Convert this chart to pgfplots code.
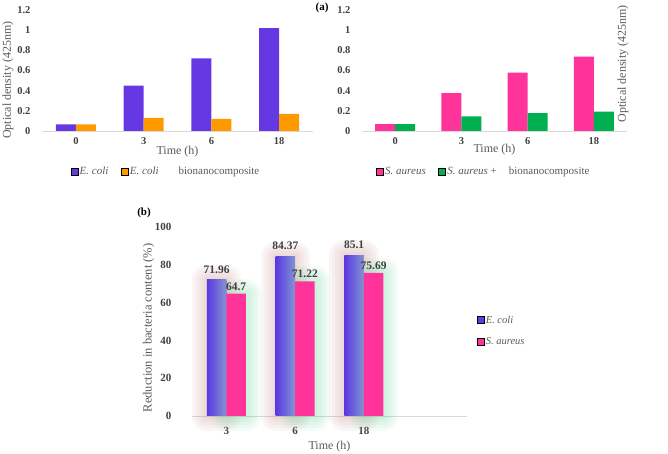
\documentclass[border=0pt]{standalone}
\usepackage{fontspec}
\setmainfont{Liberation Serif}
\usepackage{pgfplots}
\pgfplotsset{compat=1.18}
\definecolor{ecoli}{HTML}{6638E3}
\definecolor{orangeC}{HTML}{FF9900}
\definecolor{pinkC}{HTML}{FF3399}
\definecolor{greenC}{HTML}{00B050}
\definecolor{txt}{HTML}{595959}
\definecolor{tickc}{HTML}{404040}
\definecolor{axisgray}{HTML}{D9D9D9}
\definecolor{purpL}{HTML}{5A38E2}
\definecolor{purpR}{HTML}{8494D2}
\definecolor{glowR}{HTML}{C98E8E}
\definecolor{glowG}{HTML}{6FD49C}
\pgfplotsset{
  common/.style={
    scale only axis, anchor=south west,
    axis x line*=bottom, axis y line*=left,
    y axis line style={draw=none},
    x axis line style={draw=axisgray, line width=0.8pt, -},
    major tick length=0pt,
    enlargelimits=false, clip=false,
    /pgf/number format/assume math mode=true,
    tick label style={font=\bfseries\fontsize{10.5}{12}\selectfont, text=tickc},
    xticklabel style={yshift=-3pt},
    yticklabel style={xshift=-8pt},
    label style={font=\fontsize{12}{14}\selectfont, text=txt},
    legend image code/.code={\fill[##1] (0pt,-3.5pt) rectangle (7pt,3.5pt);},
    legend cell align=left,
    legend style={draw=none, fill=none, anchor=west, inner sep=0pt,
      font=\fontsize{11}{13}\selectfont, text=txt,
      nodes={inner sep=0.6pt},
      /tikz/every odd column/.append style={column sep=1pt},
      /tikz/every even column/.append style={column sep=12pt}},
  },
  glowA/.style={forget plot, ybar, bar width=19.5pt, bar shift=-9.75pt, fill=none, draw=glowR, draw opacity=0.08, line join=round},
  glowB/.style={forget plot, ybar, bar width=19.5pt, bar shift=9.75pt, fill=none, draw=glowG, draw opacity=0.08, line join=round},
  purpbar/.style={forget plot, ybar, bar width=19.5pt, bar shift=-9.75pt, left color=purpL, right color=purpR, draw=none,
    nodes near coords, nodes near coords style={font=\bfseries\fontsize{11.5}{13}\selectfont, text=tickc, anchor=south, xshift=-9.75pt, yshift=3pt}},
}
\begin{document}
\begin{tikzpicture}
\path[use as bounding box] (0pt,0pt) rectangle (668pt,454pt);
% ---------- top left ----------
\begin{axis}[common, at={(42pt,323pt)}, width=271pt, height=121pt,
  xmin=-0.5, xmax=3.5, ymin=0, ymax=1.2,
  xtick={0,1,2,3}, xticklabels={0,3,6,18},
  ytick={0,0.2,0.4,0.6,0.8,1,1.2}, yticklabels={0,0.2,0.4,0.6,0.8,1,1.2},
  xlabel={Time (h)}, ylabel={Optical density (425nm)},
  xlabel style={at={(axis description cs:0.5,-0.174)}, anchor=center},
  ylabel style={at={(axis description cs:-0.125,0.42)}, anchor=center},
  legend style={at={(axis description cs:0.105,-0.335)}},
  legend columns=-1]
\addplot[forget plot, ybar, bar width=20pt, bar shift=-10pt, fill=ecoli, draw=none]
  coordinates {(0,0.065) (1,0.45) (2,0.72) (3,1.02)};
\addplot[forget plot, ybar, bar width=20pt, bar shift=10pt, fill=orangeC, draw=none]
  coordinates {(0,0.065) (1,0.13) (2,0.12) (3,0.17)};
\addlegendimage{fill=ecoli}
\addlegendimage{fill=orangeC}
\legend{\textit{E. coli}, \textit{E. coli}\hspace{20pt}bionanocomposite}
\end{axis}
% ---------- top right ----------
\begin{axis}[common, at={(362pt,323pt)}, width=265pt, height=121pt,
  xmin=-0.5, xmax=3.5, ymin=0, ymax=1.2,
  xtick={0,1,2,3}, xticklabels={0,3,6,18},
  ytick={0,0.2,0.4,0.6,0.8,1,1.2}, yticklabels={0,0.2,0.4,0.6,0.8,1,1.2},
  xlabel={Time (h)}, ylabel={Optical density (425nm)},
  xlabel style={at={(axis description cs:0.5,-0.15)}, anchor=center},
  ylabel style={at={(axis description cs:0.985,0.554)}, anchor=center},
  legend style={at={(axis description cs:0.053,-0.335)}},
  legend columns=-1]
\addplot[forget plot, ybar, bar width=20pt, bar shift=-10pt, fill=pinkC, draw=none]
  coordinates {(0,0.068) (1,0.375) (2,0.578) (3,0.737)};
\addplot[forget plot, ybar, bar width=20pt, bar shift=10pt, fill=greenC, draw=none]
  coordinates {(0,0.068) (1,0.145) (2,0.178) (3,0.192)};
\addlegendimage{fill=pinkC}
\addlegendimage{fill=greenC}
\legend{\textit{S. aureus}, \textit{S. aureus} +\hspace{12pt}bionanocomposite}
\end{axis}
\node[font=\bfseries\fontsize{11}{13}\selectfont, text=black] at (322pt,446pt) {(a)};
% ---------- bottom ----------
\begin{axis}[common, at={(192pt,38pt)}, width=275pt, height=189pt,
  xmin=-0.5, xmax=3.5, ymin=0, ymax=100,
  xtick={0,1,2}, xticklabels={3,6,18},
  ytick={0,20,40,60,80,100},
  tick label style={font=\bfseries\fontsize{11}{13}\selectfont, text=tickc},
  xticklabel style={yshift=-5pt},
  yticklabel style={xshift=-9pt},
  xlabel={Time (h)}, ylabel={Reduction in bacteria content (\%)},
  ylabel style={at={(axis description cs:-0.158,0.466)}, anchor=center, font=\fontsize{12.5}{15}\selectfont},
  xlabel style={at={(axis description cs:0.5,-0.164)}, anchor=center},
  legend style={at={(axis description cs:1.035,0.45)}, font=\fontsize{10.5}{12}\selectfont, row sep=12pt},
  legend columns=1]
% glows
\addplot[glowA, line width=30pt] coordinates {(0,71.96) (1,84.37) (2,85.1)};
\addplot[glowA, line width=24pt] coordinates {(0,71.96) (1,84.37) (2,85.1)};
\addplot[glowA, line width=18pt] coordinates {(0,71.96) (1,84.37) (2,85.1)};
\addplot[glowA, line width=12pt] coordinates {(0,71.96) (1,84.37) (2,85.1)};
\addplot[glowA, line width=6pt] coordinates {(0,71.96) (1,84.37) (2,85.1)};
\addplot[glowB, line width=30pt] coordinates {(0,64.7) (1,71.22) (2,75.69)};
\addplot[glowB, line width=24pt] coordinates {(0,64.7) (1,71.22) (2,75.69)};
\addplot[glowB, line width=18pt] coordinates {(0,64.7) (1,71.22) (2,75.69)};
\addplot[glowB, line width=12pt] coordinates {(0,64.7) (1,71.22) (2,75.69)};
\addplot[glowB, line width=6pt] coordinates {(0,64.7) (1,71.22) (2,75.69)};
% bars (E. coli bars one by one so that each has its own gradient)
\addplot[purpbar] coordinates {(0,71.96)};
\addplot[purpbar] coordinates {(1,84.37)};
\addplot[purpbar] coordinates {(2,85.1)};
\addplot[forget plot, ybar, bar width=19.5pt, bar shift=9.75pt, fill=pinkC, draw=none,
  nodes near coords, nodes near coords style={font=\bfseries\fontsize{11.5}{13}\selectfont, text=tickc, anchor=south, xshift=9.75pt, yshift=0pt}]
  coordinates {(0,64.7) (1,71.22) (2,75.69)};
\addlegendimage{fill=ecoli}
\addlegendimage{fill=pinkC}
\legend{\textit{E. coli}, \textit{S. aureus}}
\end{axis}
\node[font=\bfseries\fontsize{11}{13}\selectfont, text=black] at (144pt,241pt) {(b)};
\end{tikzpicture}
\end{document}
